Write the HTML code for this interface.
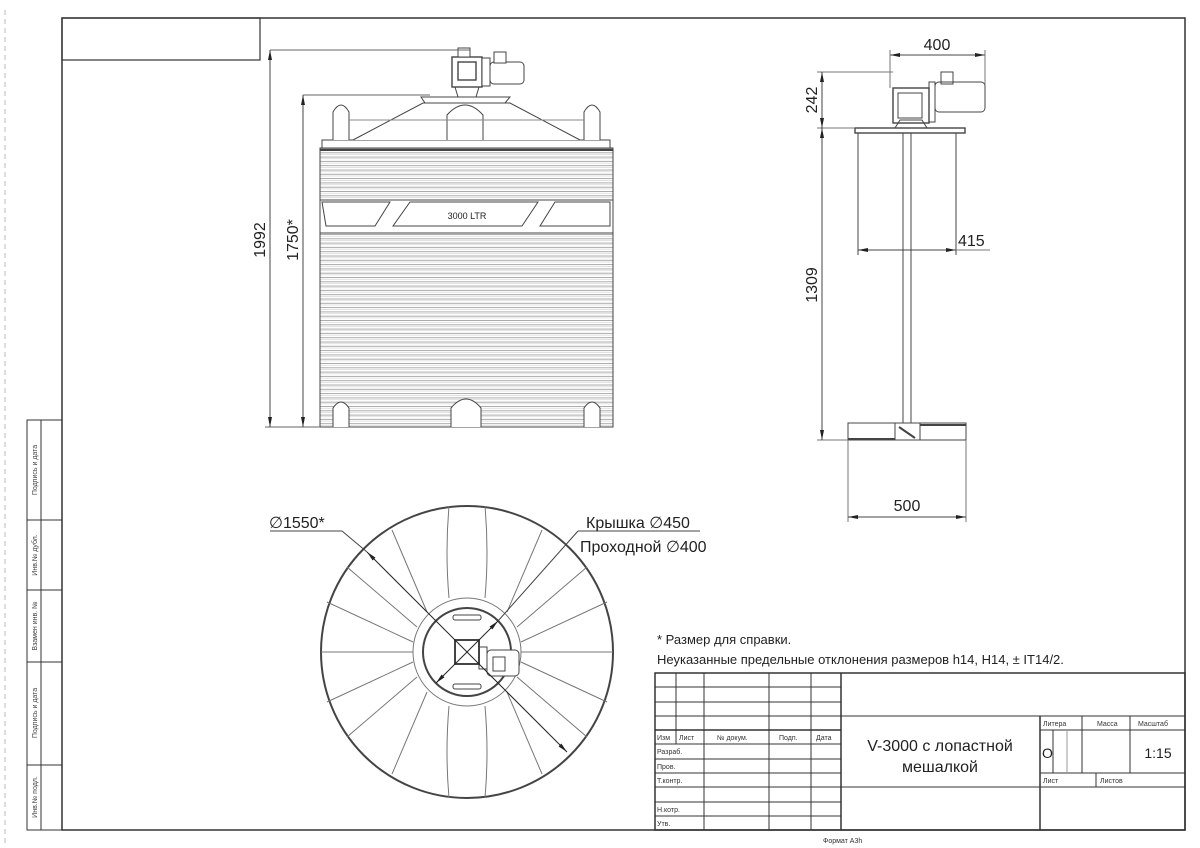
<!DOCTYPE html>
<html><head><meta charset="utf-8"><style>
html,body{margin:0;padding:0;background:#fff;}
svg{display:block;font-family:"Liberation Sans",Arial,sans-serif;}
</style></head><body>
<svg width="1200" height="848" viewBox="0 0 1200 848" xmlns="http://www.w3.org/2000/svg">
<defs>
<marker id="a" viewBox="0 0 10 4" refX="10" refY="2" markerWidth="10" markerHeight="4" orient="auto-start-reverse" markerUnits="userSpaceOnUse"><path d="M0,0L10,2L0,4z" fill="#222"/></marker>
<pattern id="rib" x="0" y="148" width="10" height="4.3" patternUnits="userSpaceOnUse"><line x1="0" y1="0.5" x2="10" y2="0.5" stroke="#888" stroke-width="0.7"/><line x1="0" y1="2.2" x2="10" y2="2.2" stroke="#ccc" stroke-width="0.6"/></pattern>
</defs>
<line x1="5" y1="10" x2="5" y2="845" stroke="#bbb" stroke-dasharray="5,4"/>
<rect x="62" y="18" width="1123" height="812" fill="none" stroke="#333" stroke-width="1.5"/>
<rect x="62" y="18" width="198" height="42" fill="none" stroke="#333" stroke-width="1.2"/>
<g stroke="#333" fill="none" stroke-width="1">
<rect x="27" y="420" width="35" height="410"/>
<line x1="41" y1="420" x2="41" y2="830"/>
<line x1="27" y1="520" x2="62" y2="520"/>
<line x1="27" y1="590" x2="62" y2="590"/>
<line x1="27" y1="662" x2="62" y2="662"/>
<line x1="27" y1="765" x2="62" y2="765"/>
</g>
<g font-size="7" fill="#444">
<text transform="translate(37,470) rotate(-90)" text-anchor="middle">Подпись и дата</text>
<text transform="translate(37,555) rotate(-90)" text-anchor="middle">Инв.№ дубл.</text>
<text transform="translate(37,626) rotate(-90)" text-anchor="middle">Взамен инв. №</text>
<text transform="translate(37,713) rotate(-90)" text-anchor="middle">Подпись и дата</text>
<text transform="translate(37,797) rotate(-90)" text-anchor="middle">Инв.№ подл.</text>
</g>

<!-- ELEVATION TANK -->
<g stroke="#444" fill="none" stroke-width="1">
<rect x="320" y="148" width="293" height="279" fill="url(#rib)"/>
<rect x="320" y="148" width="293" height="279"/>
<line x1="320" y1="150" x2="613" y2="150" stroke-width="2"/>
<!-- dome -->
<path d="M322,148 L322,140 L610,140 L610,148"/>
<path d="M353,140 L423,103 L510,103 L580,140" fill="#fff"/>
<path d="M333,140 L333,112 Q341,98 349,112 L349,140" fill="#fff"/>
<path d="M584,140 L584,112 Q592,98 600,112 L600,140" fill="#fff"/>
<path d="M447,140 L447,115 Q465,95 483,115 L483,140" fill="#fff"/>
<line x1="349" y1="120" x2="584" y2="120" stroke="#888"/>
<path d="M421,97 L510,97 L505,103 L425,103 Z" fill="#fff"/>
<!-- label band -->
<rect x="320" y="200" width="293" height="33" fill="#fff"/>
<path d="M322,202 L390,202 L375,226 L326,226 Z" fill="#fff"/>
<path d="M410,202 L538,202 L522,226 L393,226 Z" fill="#fff"/>
<path d="M555,202 L610,202 L610,226 L540,226 Z" fill="#fff"/>
<!-- bottom arches -->
<path d="M333,427 L333,408 Q341,396 349,408 L349,427" fill="#fff"/>
<path d="M451,427 L451,408 Q466,390 481,408 L481,427" fill="#fff"/>
<path d="M584,427 L584,408 Q592,396 600,408 L600,427" fill="#fff"/>
<!-- motor -->
<rect x="452" y="57" width="30" height="30" fill="#fff" stroke-width="1.4"/>
<rect x="458" y="62" width="18" height="18" stroke-width="1.4"/>
<rect x="482" y="58" width="8" height="28" fill="#fff"/>
<rect x="490" y="62" width="34" height="22" rx="4" fill="#fff"/>
<rect x="494" y="52" width="12" height="11" fill="#fff"/>
<rect x="458" y="48" width="12" height="9" fill="#fff"/>
<path d="M455,87 L458,97 M479,87 L476,97"/>
<line x1="270" y1="50" x2="470" y2="50" stroke="#666"/>
<line x1="303" y1="95" x2="430" y2="95" stroke="#666"/>
<line x1="265" y1="427" x2="320" y2="427" stroke="#666"/>
<line x1="270" y1="50" x2="270" y2="427" marker-start="url(#a)" marker-end="url(#a)"/>
<line x1="303" y1="95" x2="303" y2="427" marker-start="url(#a)" marker-end="url(#a)"/>
</g>
<text x="467" y="219" font-size="9" text-anchor="middle" fill="#222">3000 LTR</text>
<text transform="translate(265,240) rotate(-90)" font-size="16" text-anchor="middle" fill="#222">1992</text>
<text transform="translate(298,240) rotate(-90)" font-size="16" text-anchor="middle" fill="#222">1750*</text>

<!-- SIDE VIEW -->
<g stroke="#444" fill="none" stroke-width="1">
<rect x="855" y="128" width="110" height="5" fill="#fff" stroke-width="1.4"/>
<rect x="893" y="88" width="36" height="35" stroke-width="1.4"/>
<rect x="898" y="93" width="24" height="25"/>
<rect x="929" y="82" width="6" height="40"/>
<rect x="935" y="82" width="50" height="30" rx="4"/>
<rect x="941" y="72" width="12" height="12"/>
<path d="M895,128 L900,120 L922,120 L927,128"/>
<line x1="858" y1="133" x2="858" y2="255"/>
<line x1="956" y1="133" x2="956" y2="255"/>
<line x1="903" y1="133" x2="903" y2="423"/>
<line x1="911" y1="133" x2="911" y2="423"/>
<rect x="848" y="423" width="118" height="17"/>
<line x1="848" y1="439" x2="895" y2="439" stroke-width="2"/>
<line x1="920" y1="425" x2="966" y2="425" stroke-width="2"/>
<path d="M895,423 L920,423 L920,440 L895,440 Z" fill="#fff"/>
<line x1="899" y1="427" x2="915" y2="438" stroke-width="2"/>
<line x1="890" y1="55" x2="985" y2="55" marker-start="url(#a)" marker-end="url(#a)"/>
<line x1="890" y1="50" x2="890" y2="88" stroke="#777"/>
<line x1="985" y1="50" x2="985" y2="85" stroke="#777"/>
<line x1="817" y1="72" x2="893" y2="72" stroke="#777"/>
<line x1="817" y1="128" x2="855" y2="128" stroke="#777"/>
<line x1="817" y1="440" x2="848" y2="440" stroke="#777"/>
<line x1="822" y1="72" x2="822" y2="128" marker-start="url(#a)" marker-end="url(#a)"/>
<line x1="822" y1="128" x2="822" y2="440" marker-start="url(#a)" marker-end="url(#a)"/>
<line x1="858" y1="250" x2="956" y2="250" marker-start="url(#a)" marker-end="url(#a)"/>
<line x1="956" y1="250" x2="990" y2="250" stroke="#777"/>
<line x1="848" y1="440" x2="848" y2="522" stroke="#777"/>
<line x1="966" y1="440" x2="966" y2="522" stroke="#777"/>
<line x1="848" y1="517" x2="966" y2="517" marker-start="url(#a)" marker-end="url(#a)"/>
</g>
<g font-size="16" fill="#222">
<text x="937" y="50" text-anchor="middle">400</text>
<text transform="translate(817,100) rotate(-90)" text-anchor="middle">242</text>
<text transform="translate(817,285) rotate(-90)" text-anchor="middle">1309</text>
<text x="958" y="246">415</text>
<text x="907" y="511" text-anchor="middle">500</text>
</g>

<!-- PLAN VIEW -->
<g stroke="#444" fill="none" stroke-width="1" transform="translate(467,652)">
<circle r="146" stroke-width="2"/>
<g stroke="#777">
<path d="M-18,-146 Q-22,-100 -18,-54 M18,-146 Q22,-100 18,-54"/>
<path d="M-18,146 Q-22,100 -18,54 M18,146 Q22,100 18,54"/>
<line x1="-146" y1="0" x2="-54" y2="0"/><line x1="146" y1="0" x2="54" y2="0"/>
<path d="M-120,-85 L-50,-25 M-140,-50 L-54,-10 M-75,-122 L-40,-40 M-120,85 L-50,25 M-140,50 L-54,10 M-75,122 L-40,40"/>
<path d="M120,-85 L50,-25 M140,-50 L54,-10 M75,-122 L40,-40 M120,85 L50,25 M140,50 L54,10 M75,122 L40,40"/>
</g>
<circle r="54" fill="#fff" stroke="#777"/>
<circle r="44" stroke-width="2"/>
<rect x="-14" y="-37" width="28" height="5" rx="2"/>
<rect x="-14" y="32" width="28" height="5" rx="2"/>
<rect x="-12" y="-12" width="24" height="24" stroke-width="2"/>
<rect x="12" y="-5" width="8" height="22"/>
<rect x="20" y="-2" width="32" height="26" rx="4" fill="#fff"/>
<rect x="26" y="5" width="12" height="14"/>
<line x1="-100" y1="-100" x2="100" y2="100" stroke="#222" marker-start="url(#a)" marker-end="url(#a)"/>
<line x1="-31" y1="31" x2="31" y2="-31" stroke="#222" marker-start="url(#a)" marker-end="url(#a)"/>
</g>
<g stroke="#444" fill="none">
<line x1="270" y1="531" x2="342" y2="531"/><line x1="342" y1="531" x2="367" y2="552"/>
<line x1="578" y1="531" x2="700" y2="531"/><line x1="578" y1="531" x2="498" y2="621"/>
</g>
<g font-size="16" fill="#222">
<text x="269" y="528">∅1550*</text>
<text x="586" y="528">Крышка ∅450</text>
<text x="580" y="552">Проходной ∅400</text>
</g>
<g font-size="13" fill="#222">
<text x="657" y="644">* Размер для справки.</text>
<text x="657" y="664">Неуказанные предельные отклонения размеров h14, H14, ± IT14/2.</text>
</g>

<!-- TITLE BLOCK -->
<g stroke="#333" fill="none" stroke-width="1">
<rect x="655" y="673" width="530" height="157" stroke-width="1.5"/>
<line x1="655" y1="687" x2="841" y2="687"/>
<line x1="655" y1="702" x2="841" y2="702"/>
<line x1="655" y1="716" x2="1185" y2="716"/>
<line x1="655" y1="730" x2="841" y2="730" stroke-width="1.5"/>
<line x1="655" y1="744" x2="841" y2="744"/>
<line x1="655" y1="759" x2="841" y2="759"/>
<line x1="655" y1="773" x2="841" y2="773"/>
<line x1="655" y1="787" x2="1185" y2="787"/>
<line x1="655" y1="802" x2="841" y2="802"/>
<line x1="655" y1="816" x2="841" y2="816"/>
<line x1="676" y1="673" x2="676" y2="744"/>
<line x1="704" y1="673" x2="704" y2="830"/>
<line x1="769" y1="673" x2="769" y2="830"/>
<line x1="811" y1="673" x2="811" y2="830"/>
<line x1="841" y1="673" x2="841" y2="830" stroke-width="1.5"/>
<line x1="1040" y1="716" x2="1040" y2="830" stroke-width="1.5"/>
<line x1="1040" y1="730" x2="1185" y2="730"/>
<line x1="1040" y1="773" x2="1185" y2="773"/>
<line x1="1082" y1="716" x2="1082" y2="773"/>
<line x1="1130" y1="716" x2="1130" y2="773"/>
<line x1="1053" y1="730" x2="1053" y2="773"/>
<line x1="1067" y1="730" x2="1067" y2="773" stroke="#999"/>
<line x1="1096" y1="773" x2="1096" y2="787"/>
</g>
<g font-size="7" fill="#333">
<text x="657" y="740">Изм</text><text x="679" y="740">Лист</text><text x="717" y="740">№ докум.</text><text x="779" y="740">Подп.</text><text x="816" y="740">Дата</text>
<text x="657" y="754">Разраб.</text><text x="657" y="769">Пров.</text><text x="657" y="783">Т.контр.</text>
<text x="657" y="812">Н.котр.</text><text x="657" y="826">Утв.</text>
<text x="1043" y="726">Литера</text><text x="1097" y="726">Масса</text><text x="1138" y="726">Масштаб</text>
<text x="1043" y="783">Лист</text><text x="1100" y="783">Листов</text>
<text x="823" y="843">Формат A3h</text>
</g>
<g fill="#222">
<text x="940" y="751" font-size="16" text-anchor="middle">V-3000 с лопастной</text>
<text x="940" y="772" font-size="16" text-anchor="middle">мешалкой</text>
<text x="1042" y="758" font-size="14">О</text>
<text x="1158" y="758" font-size="14" text-anchor="middle">1:15</text>
</g>
</svg>
</body></html>
